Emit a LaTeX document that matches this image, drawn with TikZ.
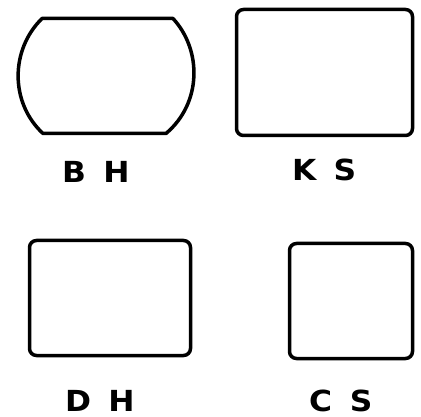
\documentclass[tikz,border=0pt]{standalone}
\usepackage{fontspec}
\usepackage{tikz}
\usetikzlibrary{positioning}
\newfontfamily\tagfont[LetterSpace=55]{DejaVu Sans}
\definecolor{Ink}{HTML}{000000}
\tikzset{
  screen/.style={draw=Ink,line width=3.5pt,rounded corners=7pt,inner sep=0pt},
  tag/.style={font=\tagfont\bfseries\fontsize{29}{30}\selectfont,text=Ink,inner sep=0pt,anchor=base west,xscale=1.08}
}
\begin{document}
\begin{tikzpicture}[x=1pt,y=-1pt]
\useasboundingbox (0,0) rectangle (421,417);
% barrel-shaped screen
\draw[Ink,line width=3.5pt,line join=round] (42,18.5) -- (173,18.5) .. controls (202,50) and (202,103) .. (166,133.5)
  -- (43,133.5) .. controls (10,103) and (10,50) .. cycle;
\coordinate (bh) at (108,76);
\node[screen,minimum width=176pt,minimum height=126pt] (ks) at (324.5,72.5) {};
\node[screen,minimum width=161pt,minimum height=115pt] (dh) at (110,298) {};
\node[screen,minimum width=123pt,minimum height=115pt] (cs) at (351,301) {};
\node[tag] (bhtag) at (62,183) {BH};
\node[tag] (kstag) at (292,181) {KS};
\node[tag] (dhtag) at (65,411) {DH};
\node[tag] (cstag) at (309,411) {CS};
\end{tikzpicture}
\end{document}
